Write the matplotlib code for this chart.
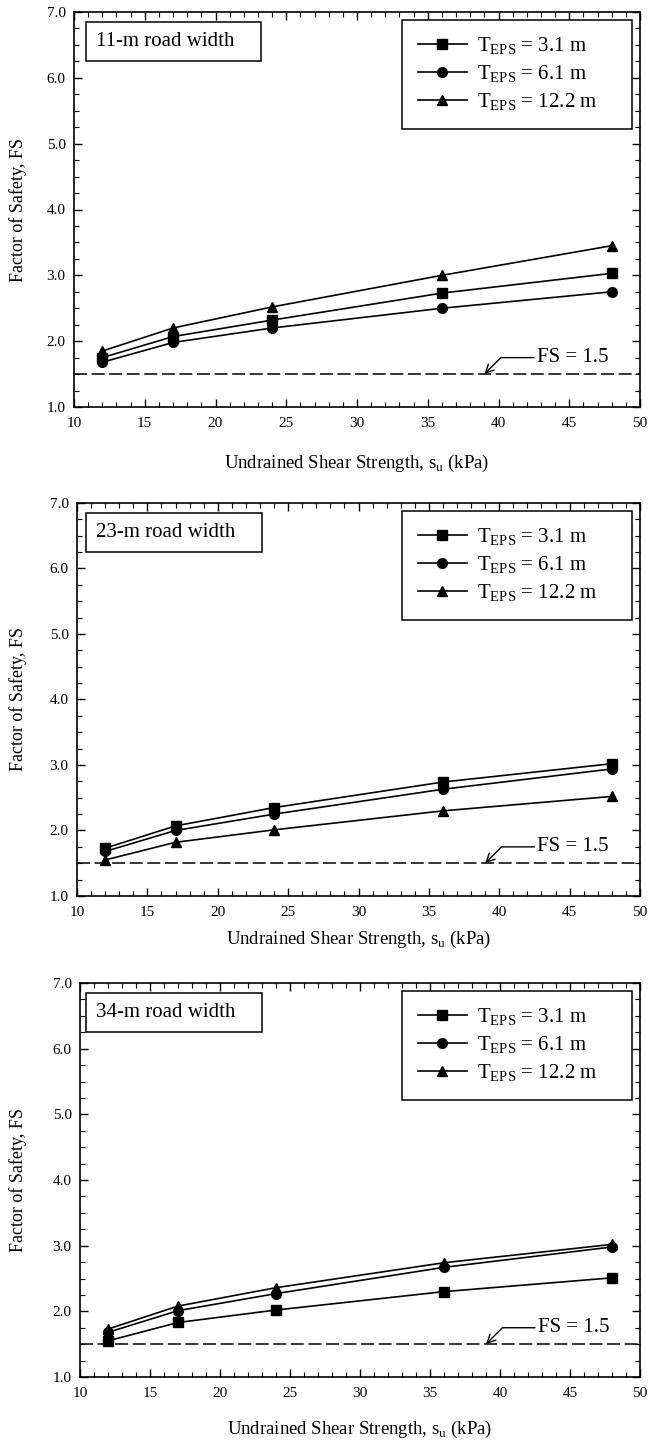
import numpy as np
import matplotlib
matplotlib.use("Agg")
import matplotlib.pyplot as plt
from matplotlib.ticker import MultipleLocator, FormatStrFormatter

plt.rcParams['font.family'] = ['Liberation Serif', 'DejaVu Serif']
plt.rcParams['mathtext.fontset'] = 'custom'
plt.rcParams['mathtext.rm'] = 'Liberation Serif'

su = [12, 17, 24, 36, 48]
labels = [r'T$_{\rm EPS}$ = 3.1 m', r'T$_{\rm EPS}$ = 6.1 m', r'T$_{\rm EPS}$ = 12.2 m']
markers = ['s', 'o', '^']

titles = ['11-m road width', '23-m road width', '34-m road width']

fs_11 = [[1.75, 2.07, 2.32, 2.73, 3.03],
         [1.68, 1.98, 2.20, 2.50, 2.75],
         [1.85, 2.20, 2.52, 3.00, 3.45]]
fs_23 = [[1.73, 2.07, 2.35, 2.74, 3.02],
         [1.68, 2.00, 2.25, 2.63, 2.94],
         [1.55, 1.82, 2.01, 2.30, 2.52]]
fs_34 = [[1.55, 1.83, 2.02, 2.30, 2.51],
         [1.68, 2.01, 2.27, 2.67, 2.98],
         [1.73, 2.08, 2.36, 2.74, 3.02]]
all_fs = [fs_11, fs_23, fs_34]

fs_min = 1.5

W, H = 650, 1443
# panel boxes in pixels: left, right, top, bottom
boxes = [(74, 640, 12, 407), (77, 640, 503, 896), (80, 640, 983, 1377)]
xlab_y = [463, 939, 1429]
ylab_x = 27

fig = plt.figure(figsize=(W / 100, H / 100), dpi=100)

for i in range(3):
    l, r, t, b = boxes[i]
    ax = fig.add_axes([l / W, 1 - b / H, (r - l) / W, (b - t) / H])
    for j in range(3):
        ax.plot(su, all_fs[i][j], color='black', lw=1.2, marker=markers[j],
                markersize=7, label=labels[j])
    ax.axhline(fs_min, color='black', lw=1.1, ls=(0, (8.5, 3)))
    ax.annotate('FS = 1.5', xy=(39.0, fs_min), xytext=(42.7, 1.75),
                fontsize=15, ha='left', va='center',
                arrowprops=dict(arrowstyle='->', color='black', lw=1.0,
                                shrinkA=0, shrinkB=0,
                                connectionstyle='angle,angleA=0,angleB=45,rad=0'))
    ax.set_xlim(10, 50)
    ax.set_ylim(1.0, 7.0)
    ax.xaxis.set_major_locator(MultipleLocator(5))
    ax.xaxis.set_minor_locator(MultipleLocator(1))
    ax.yaxis.set_major_locator(MultipleLocator(1))
    ax.yaxis.set_minor_locator(MultipleLocator(0.25))
    ax.yaxis.set_major_formatter(FormatStrFormatter('%.1f'))
    ax.tick_params(which='both', direction='in', top=True, right=True, labelsize=11)
    ax.tick_params(axis='y', pad=6)
    ax.tick_params(axis='x', pad=7)
    ax.tick_params(which='major', length=6, width=1)
    ax.tick_params(which='minor', length=3.5, width=0.8)
    for s in ax.spines.values():
        s.set_linewidth(1.2)
    ax.set_ylabel('Factor of Safety, FS', fontsize=13)
    ax.yaxis.set_label_coords((ylab_x - l) / (r - l), 0.5)
    ax.text((96 - l) / (r - l), 1 - 20 / (b - t), titles[i] + '   ', transform=ax.transAxes,
            fontsize=15, ha='left', va='top',
            bbox=dict(boxstyle='square,pad=0.5', fc='white', ec='black', lw=1.1))
    x0 = (402 - l) / (r - l)
    leg = ax.legend(loc='upper right', fontsize=15, frameon=True, fancybox=False,
                    edgecolor='black', handlelength=2.35, handletextpad=0.5,
                    borderpad=0.75, labelspacing=0.3, borderaxespad=0, mode='expand',
                    bbox_to_anchor=(x0, 0.0, (632 - l) / (r - l) - x0, 1 - 8 / (b - t)))
    leg.get_frame().set_linewidth(1.1)
    leg.get_frame().set_alpha(1)
    fig.text((l + r) / 2 / W, 1 - xlab_y[i] / H,
             r'Undrained Shear Strength, s$_{\rm u}$ (kPa)',
             fontsize=13.5, ha='center', va='center')

fig.savefig('out.png', dpi=100)
